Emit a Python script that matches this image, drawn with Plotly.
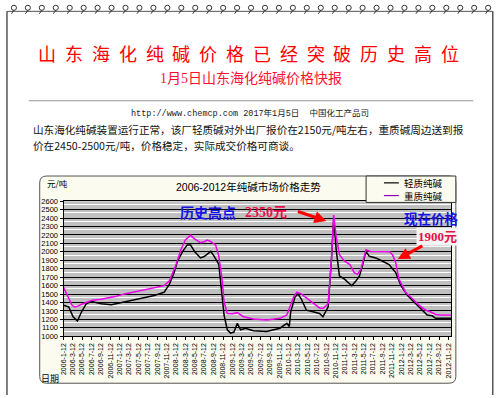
import plotly.graph_objects as go

W, H = 500, 398


def px(x):
    return x / W


def py(y):
    return 1 - y / H


# ---------------- data ----------------
light_name = "轻质纯碱"
light_dates = [
    "2006-01-12", "2006-02-15", "2006-03-15", "2006-04-12", "2006-05-09", "2006-06-09",
    "2006-07-12", "2006-09-15", "2006-11-18", "2007-02-12", "2007-05-30", "2007-08-24",
    "2007-10-27", "2007-11-30", "2007-12-30", "2008-01-21", "2008-02-24", "2008-03-24",
    "2008-04-15", "2008-05-12", "2008-06-18", "2008-07-12", "2008-08-24", "2008-09-15",
    "2008-10-15", "2008-11-05", "2008-11-18", "2008-12-09", "2008-12-30", "2009-01-21",
    "2009-02-12", "2009-03-05", "2009-04-06", "2009-05-27", "2009-08-21", "2009-11-15",
    "2009-12-30", "2010-01-15", "2010-01-24", "2010-02-21", "2010-03-12", "2010-04-02",
    "2010-05-06", "2010-06-18", "2010-07-30", "2010-08-21", "2010-09-24", "2010-10-15",
    "2010-10-30", "2010-11-15", "2010-12-06", "2011-01-08", "2011-02-12", "2011-02-24",
    "2011-03-24", "2011-04-15", "2011-05-06", "2011-05-27", "2011-06-18", "2011-07-30",
    "2011-09-12", "2011-10-24", "2011-12-06", "2012-01-09", "2012-02-21", "2012-04-03",
    "2012-05-27", "2012-06-27", "2012-07-30", "2012-08-21", "2012-11-30",
]
light_values = [
    1367, 1348, 1232, 1182, 1290, 1386,
    1413, 1386, 1375, 1406, 1444, 1483,
    1522, 1618, 1754, 1889, 2005, 2082,
    2080, 2000, 1928, 1945, 2005, 1947,
    1850, 1522, 1252, 1077, 1038, 1050,
    1154, 1077, 1096, 1066, 1058, 1096,
    1154, 1116, 1290, 1464, 1502, 1444,
    1309, 1290, 1271, 1232, 1348, 1900,
    2400, 2024, 1715, 1676, 1618, 1599,
    1657, 1715, 1850, 2005, 1947, 1928,
    1889, 1850, 1754, 1599, 1483, 1406,
    1309, 1252, 1243, 1213, 1213,
]

heavy_name = "重质纯碱"
heavy_dates = [
    "2006-01-12", "2006-02-12", "2006-03-08", "2006-03-27", "2006-04-18", "2006-05-18",
    "2006-07-12", "2006-09-12", "2006-10-27", "2006-12-12", "2007-02-12", "2007-04-12",
    "2007-05-30", "2007-07-27", "2007-09-12", "2007-10-27", "2007-11-30", "2007-12-21",
    "2008-01-12", "2008-02-12", "2008-03-12", "2008-04-15", "2008-05-06", "2008-06-18",
    "2008-07-12", "2008-08-02", "2008-08-24", "2008-09-24", "2008-10-15", "2008-11-05",
    "2008-11-18", "2008-12-09", "2009-01-12", "2009-02-12", "2009-03-24", "2009-05-27",
    "2009-08-21", "2009-11-15", "2009-12-30", "2010-02-12", "2010-03-05", "2010-04-02",
    "2010-05-27", "2010-07-30", "2010-08-21", "2010-09-24", "2010-10-15", "2010-10-30",
    "2010-11-15", "2010-12-06", "2011-01-08", "2011-02-12", "2011-03-12", "2011-04-02",
    "2011-04-24", "2011-05-27", "2011-06-27", "2011-09-12", "2011-10-27", "2011-11-15",
    "2011-12-06", "2011-12-27", "2012-02-08", "2012-03-24", "2012-05-06", "2012-06-18",
    "2012-07-18", "2012-08-21", "2012-09-21", "2012-11-30",
]
heavy_values = [
    1580, 1450, 1367, 1348, 1360, 1386,
    1425, 1440, 1452, 1470, 1502, 1525,
    1541, 1560, 1580, 1600, 1657, 1754,
    1850, 2024, 2140, 2198, 2160, 2109,
    2120, 2140, 2121, 2082, 1947, 1676,
    1406, 1271, 1268, 1280, 1232, 1205,
    1193, 1213, 1252, 1464, 1522, 1502,
    1425, 1336, 1329, 1386, 1908, 2435,
    2179, 1966, 1889, 1850, 1754, 1734,
    1792, 2024, 2005, 2005, 2000, 1966,
    1870, 1676, 1522, 1444, 1367, 1309,
    1290, 1259, 1252, 1252,
]

x_tick_vals = [f"{yr}-{mo:02d}-12" for yr in range(2006, 2013) for mo in (1, 3, 5, 7, 9, 11)]
x_tick_text = [f"{yr}-{mo}-12" for yr in range(2006, 2013) for mo in (1, 3, 5, 7, 9, 11)]

page_title = "山东海化纯碱价格已经突破历史高位"
sub_title = "1月5日山东海化纯碱价格快报"
source_line = "http://www.chemcp.com 2017年1月5日  中国化工产品司"
body_line1 = "山东海化纯碱装置运行正常，该厂轻质碱对外出厂报价在2150元/吨左右，重质碱周边送到报"
body_line2 = "价在2450-2500元/吨，价格稳定，实际成交价格可商谈。"
chart_title = "2006-2012年纯碱市场价格走势"

LIGHT_COLOR = "#000000"
HEAVY_COLOR = "#ee00ee"
CJK = "Noto Sans CJK SC"
SANS = "Liberation Sans, Noto Sans CJK SC"
SERIF = "Liberation Serif, Noto Sans CJK SC"

fig = go.Figure()
fig.add_trace(go.Scatter(x=light_dates, y=light_values, mode="lines", name=light_name,
                         line=dict(color=LIGHT_COLOR, width=1.5)))
fig.add_trace(go.Scatter(x=heavy_dates, y=heavy_values, mode="lines", name=heavy_name,
                         line=dict(color=HEAVY_COLOR, width=1.5)))

shapes = []
# page frame
shapes.append(dict(type="line", xref="paper", yref="paper", x0=px(3), x1=px(3), y0=py(7.5), y1=py(400),
                   line=dict(color="#555555", width=1.5)))
shapes.append(dict(type="line", xref="paper", yref="paper", x0=px(492.7), x1=px(492.7), y0=py(7.5), y1=py(400),
                   line=dict(color="#555555", width=1.5)))
shapes.append(dict(type="line", xref="paper", yref="paper", x0=px(3), x1=px(492.7), y0=py(7.5), y1=py(7.5),
                   line=dict(color="#555555", width=1)))
for i in range(35):
    cx = 10 + i * 14.06
    shapes.append(dict(type="circle", xref="paper", yref="paper", x0=px(cx - 2.6), x1=px(cx + 2.6),
                       y0=py(6.5), y1=py(1.3), line=dict(color="#333333", width=1)))
    shapes.append(dict(type="line", xref="paper", yref="paper", x0=px(cx), x1=px(cx - 2.5),
                       y0=py(6.5), y1=py(10), line=dict(color="#333333", width=1)))
# separator line
shapes.append(dict(type="line", xref="paper", yref="paper", x0=px(25), x1=px(473), y0=py(99), y1=py(99),
                   line=dict(color="#999999", width=1)))
# chart area (rounded)
x0, x1, y0, y1 = px(36), px(455.5), py(388), py(176)
rx, ry = 7 / W, 7 / H
path = (f"M {x0+rx},{y1} L {x1-rx},{y1} Q {x1},{y1} {x1},{y1-ry} L {x1},{y0+ry} Q {x1},{y0} {x1-rx},{y0} "
        f"L {x0+rx},{y0} Q {x0},{y0} {x0},{y0+ry} L {x0},{y1-ry} Q {x0},{y1} {x0+rx},{y1} Z")
shapes.append(dict(type="path", xref="paper", yref="paper", path=path, fillcolor="#fbfbef",
                   line=dict(color="#555555", width=1), layer="below"))
# plot area grey fill
shapes.append(dict(type="rect", xref="x domain", yref="y domain", x0=0, x1=1, y0=0, y1=1,
                   fillcolor="#c0c0c0", line=dict(width=0), layer="below"))
# legend box + samples
shapes.append(dict(type="rect", xref="paper", yref="paper", x0=px(365), x1=px(455.5), y0=py(203), y1=py(176),
                   fillcolor="#fbfbef", line=dict(color="#333333", width=1)))
shapes.append(dict(type="line", xref="paper", yref="paper", x0=px(383), x1=px(398), y0=py(183), y1=py(183),
                   line=dict(color=LIGHT_COLOR, width=1.2)))
shapes.append(dict(type="line", xref="paper", yref="paper", x0=px(383), x1=px(398), y0=py(196), y1=py(196),
                   line=dict(color="#9000c0", width=1.2)))


def A(text, x, y, size, color, family=CJK, xanchor="center", **kw):
    d = dict(text=text, x=px(x), y=py(y), xref="paper", yref="paper", showarrow=False,
             xanchor=xanchor, yanchor="middle", font=dict(family=family, size=size, color=color))
    d.update(kw)
    return d


ann = []
n = len(page_title)
step = 433 / n
for i, ch in enumerate(page_title):
    ann.append(A(ch, 30 + step * (i + 0.5), 50.5, 18, "#ff0000"))
ann.append(A(sub_title, 248.5, 76, 14, "#ff1030", family=SERIF))
ann.append(A(source_line, 248, 112, 8.5, "#222222", family="Liberation Mono, Noto Sans CJK SC"))
ann.append(A(body_line1, 27, 128, 10.6, "#111111", xanchor="left"))
ann.append(A(body_line2, 27, 145, 10.6, "#111111", xanchor="left"))
ann.append(A(chart_title, 246, 187, 10.5, "#000000", family=SANS))
ann.append(A("元/吨", 41, 183, 8.5, "#000000", xanchor="left"))
ann.append(A("日期", 35, 383, 9, "#000000", xanchor="left"))
ann.append(A(light_name, 401, 183, 9.5, "#000000", xanchor="left"))
ann.append(A(heavy_name, 401, 196, 9.5, "#000000", xanchor="left"))
ann.append(A("<b>历史高点</b>", 175, 213, 14, "#1414e6", xanchor="left"))
ann.append(A("<b>2350元</b>", 241, 213.5, 14, "#e8104a", family=SERIF, xanchor="left"))
ann.append(dict(text="", x=px(325), y=py(222), xref="paper", yref="paper", showarrow=True,
                ax=-30, ay=-10, arrowcolor="#ff0000", arrowwidth=3, arrowhead=2, arrowsize=0.8))
ann.append(A("<b>现在价格</b>", 401, 219, 13.5, "#1414e6", xanchor="left"))
ann.append(A("<b>1900元</b>", 415, 238, 13, "#e8104a", family=SERIF, xanchor="left", bgcolor="#f4f4f4"))
ann.append(dict(text="", x=px(397), y=py(261), xref="paper", yref="paper", showarrow=True,
                ax=26, ay=-14, arrowcolor="#ff0000", arrowwidth=3, arrowhead=2, arrowsize=0.8))

fig.update_layout(
    width=W, height=H, autosize=False,
    margin=dict(l=0, r=0, t=0, b=0, pad=0),
    paper_bgcolor="#ffffff", plot_bgcolor="rgba(0,0,0,0)",
    shapes=shapes, annotations=ann,
    showlegend=False,
    xaxis=dict(type="date", range=["2006-01-12", "2012-12-01"], domain=[px(60), px(451)],
               tickmode="array", tickvals=x_tick_vals, ticktext=x_tick_text, tickangle=-90,
               tickfont=dict(family="Liberation Sans", size=7, color="#000000"),
               ticks="outside", ticklen=3, tickcolor="#000000", showgrid=False,
               showline=True, linecolor="#000000", linewidth=1, mirror=True, zeroline=False),
    yaxis=dict(range=[1000, 2600], domain=[py(340), py(201.7)], tickmode="linear", tick0=1000, dtick=100,
               tickfont=dict(family="Liberation Sans", size=7.5, color="#000000"),
               ticks="outside", ticklen=3, tickcolor="#000000",
               showgrid=True, gridcolor="#000000", gridwidth=1,
               minor=dict(tick0=1060, dtick=100, showgrid=True, gridcolor="#ffffff", gridwidth=1, ticks=""),
               showline=True, linecolor="#000000", linewidth=1, mirror=True, zeroline=False),
)

fig.write_html("out.html", config={"displayModeBar": False},
               post_script="document.body.style.margin='0';document.body.style.overflow='hidden';")
